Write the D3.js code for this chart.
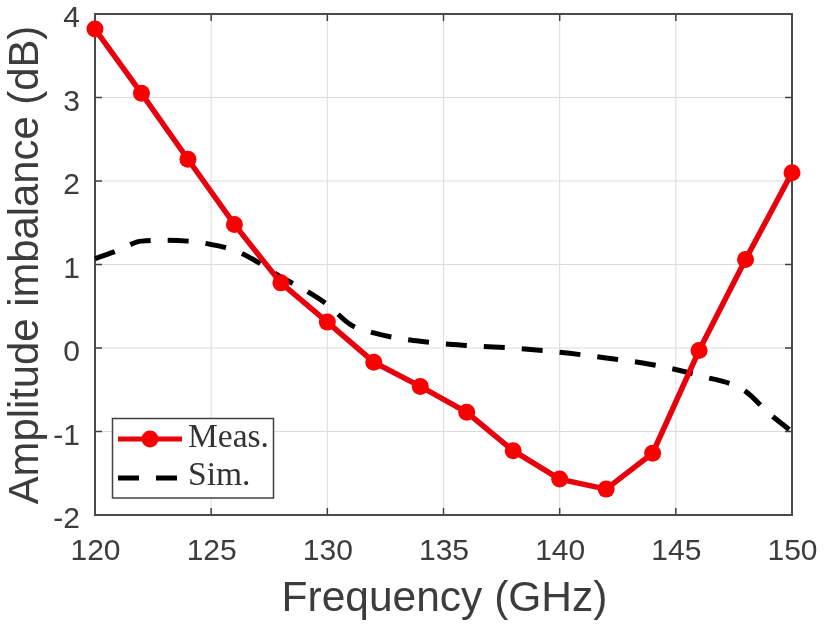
<!DOCTYPE html>
<html>
<head>
<meta charset="utf-8">
<script src="https://cdn.jsdelivr.net/npm/d3@7"></script>
<style>
html,body{margin:0;padding:0;background:#fff;}
svg{filter:blur(0.45px);}
text{font-family:"Liberation Sans",Arial,sans-serif;fill:#3c3c3c;}
</style>
</head>
<body>
<div id="chart"></div>
<script>
var measFreq=[120,122,124,126,128,130,132,134,136,138,140,142,144,146,148,150];
var measVals=[3.82,3.05,2.26,1.48,0.78,0.31,-0.17,-0.46,-0.77,-1.23,-1.57,-1.69,-1.26,-0.03,1.06,2.1];
var simFreq=[120,121,122,123,124,125,126,127,128,129,130,131,132,133,134,135,136,138,140,142,144,146,148,149,150];
var simVals=[1.07,1.17,1.28,1.29,1.28,1.24,1.17,1.03,0.85,0.7,0.52,0.28,0.18,0.12,0.08,0.05,0.03,0,-0.05,-0.12,-0.2,-0.33,-0.52,-0.78,-1.0];
var xTicks=[120,125,130,135,140,145,150];
var yTicks=[-2,-1,0,1,2,3,4];
var legendLabels=['Meas.','Sim.'];

var svg=d3.select('#chart').append('svg')
    .attr('width',827).attr('height',624)
    .style('display','block');

// ojo: "top" es window.top, no se puede usar como variable global
var plotL=95,plotR=792,plotT=14,plotB=515;
var x=d3.scaleLinear().domain([120,150]).range([plotL,plotR]);
var y=d3.scaleLinear().domain([-2,4]).range([plotB,plotT]);

// rejilla
svg.append('g').selectAll('line').data(xTicks.slice(1,-1)).enter().append('line')
    .attr('x1',d=>x(d)).attr('x2',d=>x(d)).attr('y1',plotT).attr('y2',plotB)
    .attr('stroke','#dcdcdc').attr('stroke-width',1);
svg.append('g').selectAll('line').data(yTicks.slice(1,-1)).enter().append('line')
    .attr('y1',d=>y(d)).attr('y2',d=>y(d)).attr('x1',plotL).attr('x2',plotR)
    .attr('stroke','#dcdcdc').attr('stroke-width',1);

// ejes, con guion corto en los negativos como en matlab
var xAxis=svg.append('g').attr('transform','translate(0,'+plotB+')')
    .call(d3.axisBottom(x).tickValues(xTicks).tickSize(0).tickPadding(24).tickFormat(d=>String(d)));
var yAxis=svg.append('g').attr('transform','translate('+plotL+',0)')
    .call(d3.axisLeft(y).tickValues(yTicks).tickSize(0).tickPadding(15).tickFormat(d=>String(d)));
[xAxis,yAxis].forEach(function(a){
    a.select('.domain').remove();
    a.selectAll('text').attr('font-size',30).style('fill','#3c3c3c');
});
yAxis.selectAll('text').attr('dy','0.42em');

// marcas interiores
svg.append('g').selectAll('line').data(xTicks).enter().append('line')
    .attr('x1',d=>x(d)).attr('x2',d=>x(d)).attr('y1',plotB).attr('y2',plotB-7)
    .attr('stroke','#404040').attr('stroke-width',1.5);
svg.append('g').selectAll('line').data(xTicks).enter().append('line')
    .attr('x1',d=>x(d)).attr('x2',d=>x(d)).attr('y1',plotT).attr('y2',plotT+7)
    .attr('stroke','#404040').attr('stroke-width',1.5);
svg.append('g').selectAll('line').data(yTicks).enter().append('line')
    .attr('y1',d=>y(d)).attr('y2',d=>y(d)).attr('x1',plotL).attr('x2',plotL+7)
    .attr('stroke','#404040').attr('stroke-width',1.5);
svg.append('g').selectAll('line').data(yTicks).enter().append('line')
    .attr('y1',d=>y(d)).attr('y2',d=>y(d)).attr('x1',plotR).attr('x2',plotR-7)
    .attr('stroke','#404040').attr('stroke-width',1.5);

svg.append('rect')
    .attr('x',plotL).attr('y',plotT).attr('width',plotR-plotL).attr('height',plotB-plotT)
    .attr('fill','none').attr('stroke','#4a4a4a').attr('stroke-width',2);

// series
var lineSim=d3.line().x((d,i)=>x(simFreq[i])).y(d=>y(d)).curve(d3.curveMonotoneX);
svg.append('path').attr('d',lineSim(simVals))
    .attr('fill','none').attr('stroke','#000').attr('stroke-width',5)
    .attr('stroke-dasharray','21,17');

var lineMeas=d3.line().x((d,i)=>x(measFreq[i])).y(d=>y(d));
svg.append('path').attr('d',lineMeas(measVals))
    .attr('fill','none').attr('stroke','#e8000c').attr('stroke-width',5.5);
svg.append('g').selectAll('circle').data(measVals).enter().append('circle')
    .attr('cx',(d,i)=>x(measFreq[i])).attr('cy',d=>y(d)).attr('r',8.5)
    .attr('fill','#fb0000');

// titulos
svg.append('text').attr('x',444.5).attr('y',611).attr('text-anchor','middle')
    .attr('font-size',42.5).text('Frequency (GHz)');
svg.append('text').attr('transform','translate(38,265) rotate(-90)').attr('text-anchor','middle')
    .attr('font-size',41.8).text('Amplitude imbalance (dB)');

// leyenda
var lg=svg.append('g');
lg.append('rect').attr('x',112.5).attr('y',418.5).attr('width',161).attr('height',79.5)
    .attr('fill','#fff').attr('stroke','#404040').attr('stroke-width',1.5);
lg.append('line').attr('x1',118).attr('x2',182).attr('y1',439).attr('y2',439)
    .attr('stroke','#e8000c').attr('stroke-width',5);
lg.append('circle').attr('cx',150).attr('cy',439).attr('r',8.5).attr('fill','#fb0000');
lg.append('line').attr('x1',118).attr('x2',177).attr('y1',478).attr('y2',478)
    .attr('stroke','#000').attr('stroke-width',5).attr('stroke-dasharray','21,17');
lg.selectAll('text.lab').data(legendLabels).enter().append('text')
    .attr('class','lab')
    .attr('x',188).attr('y',(d,i)=>447+i*38)
    .attr('font-size',33.5)
    .style('font-family','"Liberation Serif",serif')
    .style('fill','#333')
    .text(d=>d);
</script>
</body>
</html>
